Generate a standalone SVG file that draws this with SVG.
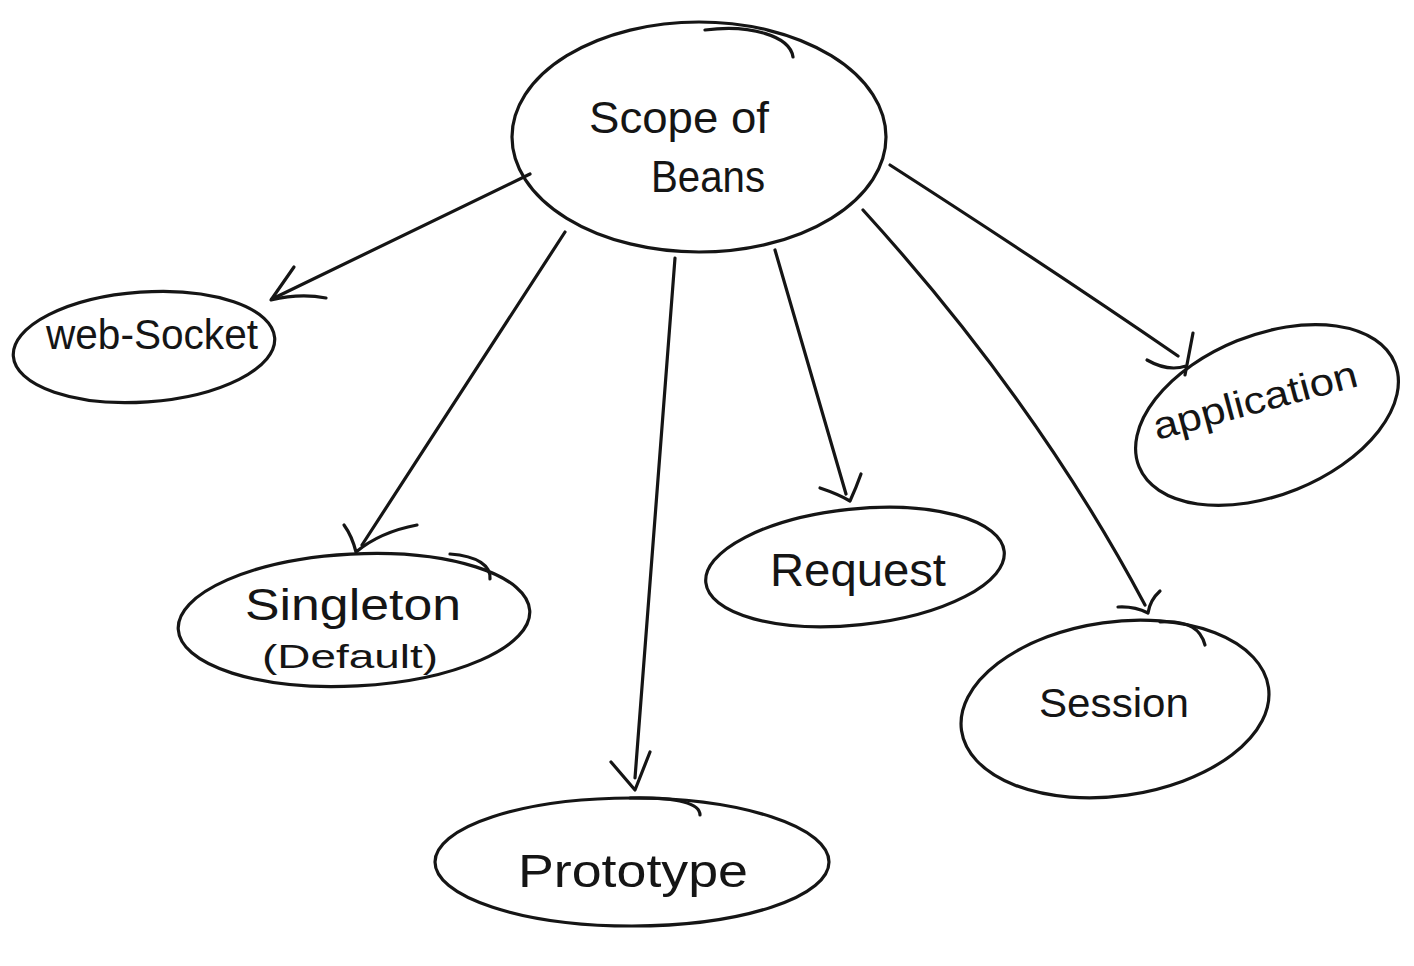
<svg xmlns="http://www.w3.org/2000/svg" width="1414" height="966" viewBox="0 0 1414 966">
  <defs>
    <style>
      .ink { fill: none; stroke: #151515; stroke-width: 3.2; stroke-linecap: round; stroke-linejoin: round; }
      .lbl { font-family: "Liberation Sans", "DejaVu Sans", sans-serif; fill: #151515; text-anchor: start; }
    </style>
  </defs>
  <rect width="1414" height="966" fill="#ffffff"/>

  <!-- connectors from the root to each scope -->
  <g id="connectors" class="ink">
    <!-- to web-Socket -->
    <path d="M 530 174 L 272 299"/>
    <path d="M 294 267 L 271 300 Q 300 293 326 298"/>
    <!-- to Singleton -->
    <path d="M 565 232 L 362 545"/>
    <path d="M 344 525 Q 352 536 356 552 Q 380 532 417 525"/>
    <!-- to Prototype -->
    <path d="M 675 258 L 635 778"/>
    <path d="M 611 762 L 635 790 L 650 752"/>
    <!-- to Request -->
    <path d="M 775 250 L 846 494"/>
    <path d="M 820 488 Q 838 494 850 501 Q 856 488 861 474"/>
    <!-- to Session -->
    <path d="M 863 210 Q 1036 400 1145 605"/>
    <path d="M 1118 607 Q 1134 606 1148 613 Q 1150 600 1160 591"/>
    <!-- to application -->
    <path d="M 890 165 Q 1050 268 1178 356"/>
    <path d="M 1147 360 Q 1168 372 1186 366 M 1193 333 L 1185 375"/>
  </g>

  <g id="node-scope" class="node">
    <ellipse class="ink" cx="699" cy="137" rx="187" ry="115"/>
    <path class="ink" d="M 705 30 C 750 24 790 36 793 57"/>
    <text class="lbl" x="589" y="133" font-size="44" textLength="180" lengthAdjust="spacingAndGlyphs">Scope of</text>
    <text class="lbl" x="651" y="192" font-size="44" textLength="114" lengthAdjust="spacingAndGlyphs">Beans</text>
  </g>

  <g id="node-websocket" class="node">
    <ellipse class="ink" cx="144" cy="347" rx="131" ry="55" transform="rotate(-4 144 347)"/>
    <text class="lbl" x="46" y="349" font-size="42" textLength="212" lengthAdjust="spacingAndGlyphs">web-Socket</text>
  </g>

  <g id="node-singleton" class="node">
    <ellipse class="ink" cx="354" cy="620" rx="176" ry="66" transform="rotate(-3 354 620)"/>
    <path class="ink" d="M 450 554 C 478 556 491 566 490 579"/>
    <text class="lbl" x="245" y="620" font-size="44" textLength="216" lengthAdjust="spacingAndGlyphs">Singleton</text>
    <text class="lbl" x="262" y="668" font-size="34" textLength="176" lengthAdjust="spacingAndGlyphs">(Default)</text>
  </g>

  <g id="node-prototype" class="node">
    <ellipse class="ink" cx="632" cy="862" rx="197" ry="64"/>
    <path class="ink" d="M 630 798 C 680 797 700 804 700 815"/>
    <text class="lbl" x="518" y="887" font-size="46" textLength="230" lengthAdjust="spacingAndGlyphs">Prototype</text>
  </g>

  <g id="node-request" class="node">
    <ellipse class="ink" cx="855" cy="567" rx="150" ry="58" transform="rotate(-6 855 567)"/>
    <text class="lbl" x="770" y="586" font-size="46" textLength="176" lengthAdjust="spacingAndGlyphs">Request</text>
  </g>

  <g id="node-session" class="node">
    <ellipse class="ink" cx="1115" cy="709" rx="155" ry="87" transform="rotate(-8 1115 709)"/>
    <path class="ink" d="M 1160 622 C 1190 620 1201 630 1205 645"/>
    <text class="lbl" x="1039" y="717" font-size="40" textLength="150" lengthAdjust="spacingAndGlyphs">Session</text>
  </g>

  <g id="node-application" class="node">
    <ellipse class="ink" cx="1267" cy="415" rx="138" ry="80" transform="rotate(-22 1267 415)"/>
    <text class="lbl" x="1157" y="440" font-size="38" textLength="210" lengthAdjust="spacingAndGlyphs" transform="rotate(-15 1157 440)">application</text>
  </g>
</svg>
